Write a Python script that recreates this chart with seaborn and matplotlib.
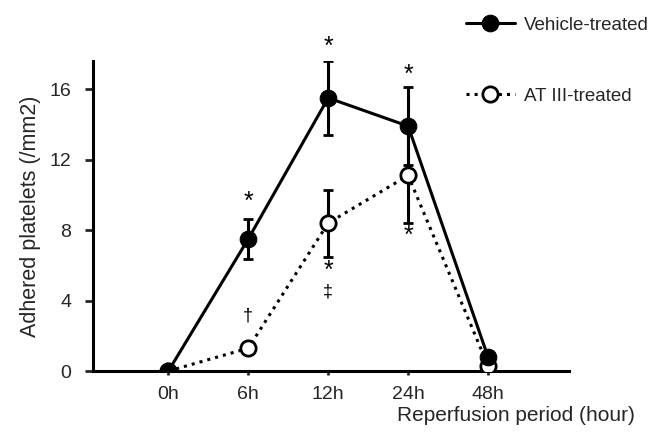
import matplotlib
matplotlib.use("Agg")
import matplotlib.pyplot as plt
import seaborn as sns
import pandas as pd
import numpy as np

periods = ["0h", "6h", "12h", "24h", "48h"]
vehicle_mean = [0.0, 7.5, 15.5, 13.9, 0.8]
vehicle_err = [0.0, 1.15, 2.1, 2.2, 0.0]
at3_mean = [0.0, 1.3, 8.4, 11.1, 0.3]
at3_err = [0.0, 0.0, 1.9, 2.7, 0.0]
y_ticks = [0, 4, 8, 12, 16]

# significance marks: (period index, y value, symbol)
marks_period = [1, 1, 2, 2, 2, 3, 3]
marks_y = [9.6, 3.1, 18.4, 5.7, 4.5, 16.8, 7.7]
marks_sym = ["*", "†", "*", "*", "‡", "*", "*"]

sns.set_theme(style="ticks")
plt.rcParams["font.family"] = ["Liberation Sans", "DejaVu Sans"]

df = pd.DataFrame({
    "period": periods * 2,
    "value": vehicle_mean + at3_mean,
    "group": ["Vehicle-treated"] * 5 + ["AT III-treated"] * 5,
})

fig = plt.figure(figsize=(6.66, 4.32), dpi=100)
ax = fig.add_axes([0.14, 0.141, 0.714, 0.718])

sns.lineplot(data=df[df.group == "AT III-treated"], x="period", y="value", ax=ax,
             color="black", linestyle=":", linewidth=2.2, marker="o", markersize=11,
             markerfacecolor="white", markeredgecolor="black", markeredgewidth=2,
             label="AT III-treated", zorder=3)
sns.lineplot(data=df[df.group == "Vehicle-treated"], x="period", y="value", ax=ax,
             color="black", linestyle="-", linewidth=2.2, marker="o", markersize=12,
             markerfacecolor="black", markeredgecolor="black",
             label="Vehicle-treated", zorder=4)

xpos = np.arange(len(periods))
ax.errorbar(xpos, vehicle_mean, yerr=vehicle_err, fmt="none", ecolor="black",
            elinewidth=2.2, capsize=3.5, capthick=2, zorder=2)
ax.errorbar(xpos, at3_mean, yerr=at3_err, fmt="none", ecolor="black",
            elinewidth=2.2, capsize=3.5, capthick=2, zorder=2)

for p, yv, s in zip(marks_period, marks_y, marks_sym):
    fs = 18 if s == "*" else 13
    ax.text(p, yv, s, ha="center", va="center", fontsize=fs, color="black",
            clip_on=False)

ax.set_xlim(-0.94, 5.01)
ax.set_ylim(0, 17.6)
ax.set_yticks(y_ticks)
ax.set_xticks(xpos)
ax.set_xticklabels(periods)
ax.tick_params(axis="y", direction="out", length=6, width=2, labelsize=14, pad=10)
ax.tick_params(axis="x", direction="out", length=3, width=2, labelsize=14, pad=8)
for sp in ["top", "right"]:
    ax.spines[sp].set_visible(False)
for sp in ["left", "bottom"]:
    ax.spines[sp].set_linewidth(2.2)
    ax.spines[sp].set_color("black")

ax.set_ylabel("Adhered platelets (/mm2)", fontsize=15.5)
ax.yaxis.set_label_coords(-0.11, 0.5)
ax.set_xlabel("Reperfusion period (hour)", fontsize=15)
ax.xaxis.set_label_coords(0.888, -0.112)

h, l = ax.get_legend_handles_labels()
ax.legend([h[1], h[0]], [l[1], l[0]], loc="upper left",
          bbox_to_anchor=(0.674, 1.0), bbox_transform=fig.transFigure,
          frameon=False, fontsize=13.5, labelspacing=2.85, handlelength=2.6,
          handletextpad=0.5)

fig.savefig("out.png", dpi=100)
